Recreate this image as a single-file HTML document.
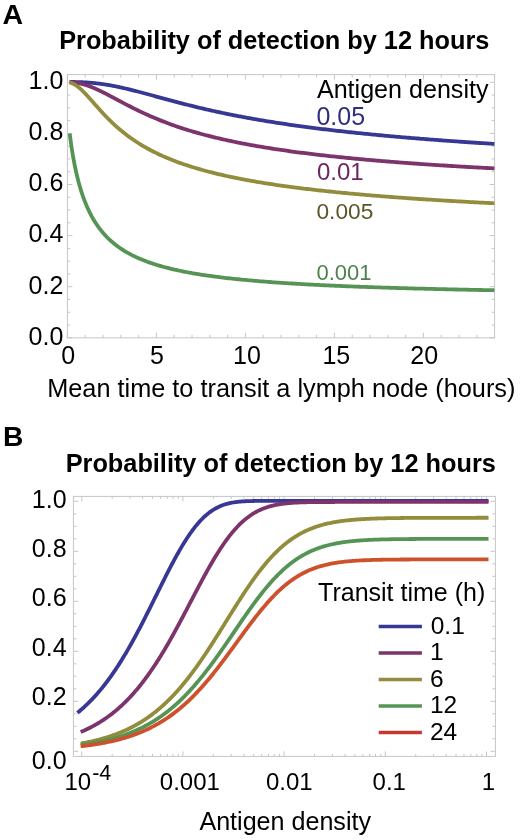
<!DOCTYPE html><html><head><meta charset="utf-8"><style>html,body{margin:0;padding:0;background:#fff}svg{display:block;will-change:transform}text{font-family:"Liberation Sans",sans-serif}</style></head><body>
<svg width="520" height="840" viewBox="0 0 520 840">
<rect width="520" height="840" fill="#fff"/>
<text x="2.4" y="23.9" font-weight="bold" font-size="28.5">A</text>
<text x="59.2" y="49.0" font-weight="bold" font-size="25.3">Probability of detection by 12 hours</text>
<path d="M67.40,337.80h5.0 M494.60,337.80h-5.0 M67.40,325.03h3.0 M494.60,325.03h-3.0 M67.40,312.25h3.0 M494.60,312.25h-3.0 M67.40,299.48h3.0 M494.60,299.48h-3.0 M67.40,286.70h5.0 M494.60,286.70h-5.0 M67.40,273.93h3.0 M494.60,273.93h-3.0 M67.40,261.15h3.0 M494.60,261.15h-3.0 M67.40,248.38h3.0 M494.60,248.38h-3.0 M67.40,235.60h5.0 M494.60,235.60h-5.0 M67.40,222.82h3.0 M494.60,222.82h-3.0 M67.40,210.05h3.0 M494.60,210.05h-3.0 M67.40,197.28h3.0 M494.60,197.28h-3.0 M67.40,184.50h5.0 M494.60,184.50h-5.0 M67.40,171.72h3.0 M494.60,171.72h-3.0 M67.40,158.95h3.0 M494.60,158.95h-3.0 M67.40,146.18h3.0 M494.60,146.18h-3.0 M67.40,133.40h5.0 M494.60,133.40h-5.0 M67.40,120.62h3.0 M494.60,120.62h-3.0 M67.40,107.85h3.0 M494.60,107.85h-3.0 M67.40,95.07h3.0 M494.60,95.07h-3.0 M67.40,82.30h5.0 M494.60,82.30h-5.0 M67.40,337.80v-5.0 M67.40,74.60v5.0 M85.20,337.80v-3.0 M85.20,74.60v3.0 M103.00,337.80v-3.0 M103.00,74.60v3.0 M120.80,337.80v-3.0 M120.80,74.60v3.0 M138.60,337.80v-3.0 M138.60,74.60v3.0 M156.40,337.80v-5.0 M156.40,74.60v5.0 M174.20,337.80v-3.0 M174.20,74.60v3.0 M192.00,337.80v-3.0 M192.00,74.60v3.0 M209.80,337.80v-3.0 M209.80,74.60v3.0 M227.60,337.80v-3.0 M227.60,74.60v3.0 M245.40,337.80v-5.0 M245.40,74.60v5.0 M263.20,337.80v-3.0 M263.20,74.60v3.0 M281.00,337.80v-3.0 M281.00,74.60v3.0 M298.80,337.80v-3.0 M298.80,74.60v3.0 M316.60,337.80v-3.0 M316.60,74.60v3.0 M334.40,337.80v-5.0 M334.40,74.60v5.0 M352.20,337.80v-3.0 M352.20,74.60v3.0 M370.00,337.80v-3.0 M370.00,74.60v3.0 M387.80,337.80v-3.0 M387.80,74.60v3.0 M405.60,337.80v-3.0 M405.60,74.60v3.0 M423.40,337.80v-5.0 M423.40,74.60v5.0 M441.20,337.80v-3.0 M441.20,74.60v3.0 M459.00,337.80v-3.0 M459.00,74.60v3.0 M476.80,337.80v-3.0 M476.80,74.60v3.0 M494.60,337.80v-3.0 M494.60,74.60v3.0" stroke="#c6c6c6" stroke-width="1" fill="none"/>
<rect x="67.40" y="74.60" width="427.20" height="263.20" stroke="#c6c6c6" stroke-width="1" fill="none"/>
<g fill="none" stroke-width="3.8" stroke-linejoin="round" clip-path="url(#ca)">
<path d="M69.71,81.97 L69.73,81.97 L69.77,81.97 L69.81,81.97 L69.86,81.97 L69.92,81.97 L69.98,81.97 L70.05,81.97 L70.13,81.97 L70.21,81.97 L70.29,81.97 L70.38,81.97 L70.47,81.97 L70.57,81.97 L70.67,81.97 L70.77,81.98 L70.88,81.98 L70.99,81.98 L71.10,81.98 L71.22,81.98 L71.34,81.98 L71.47,81.98 L71.59,81.98 L71.72,81.98 L71.85,81.98 L71.99,81.98 L72.13,81.98 L72.27,81.99 L72.41,81.99 L72.56,81.99 L72.70,81.99 L72.85,81.99 L73.01,81.99 L73.16,81.99 L73.32,82.00 L73.48,82.00 L73.64,82.00 L73.81,82.00 L73.98,82.00 L74.15,82.01 L74.32,82.01 L74.49,82.01 L74.67,82.01 L74.85,82.02 L75.03,82.02 L75.21,82.02 L75.39,82.03 L75.58,82.03 L75.77,82.03 L75.96,82.04 L76.15,82.04 L76.34,82.04 L76.54,82.05 L76.74,82.05 L76.94,82.06 L77.14,82.06 L77.34,82.07 L77.55,82.07 L77.75,82.08 L77.96,82.08 L78.17,82.09 L78.38,82.09 L78.60,82.10 L78.81,82.11 L79.03,82.11 L79.25,82.12 L79.47,82.13 L79.69,82.13 L79.92,82.14 L80.14,82.15 L80.37,82.16 L80.60,82.17 L80.83,82.17 L81.06,82.18 L81.30,82.19 L81.53,82.20 L81.77,82.21 L82.01,82.22 L82.25,82.23 L82.49,82.24 L82.74,82.25 L82.98,82.27 L83.23,82.28 L83.47,82.29 L83.72,82.30 L83.98,82.31 L84.23,82.33 L84.48,82.34 L84.74,82.36 L84.99,82.37 L85.25,82.38 L85.51,82.40 L85.77,82.41 L86.03,82.43 L86.30,82.45 L86.56,82.46 L86.83,82.48 L87.10,82.50 L87.37,82.52 L87.64,82.53 L87.91,82.55 L88.19,82.57 L88.46,82.59 L88.74,82.61 L89.01,82.63 L89.29,82.65 L89.57,82.67 L89.86,82.70 L90.14,82.72 L90.42,82.74 L90.71,82.77 L91.00,82.79 L91.28,82.81 L91.57,82.84 L91.86,82.86 L92.16,82.89 L92.45,82.92 L92.74,82.94 L93.04,82.97 L93.34,83.00 L93.64,83.03 L93.94,83.06 L94.24,83.09 L94.54,83.12 L94.84,83.15 L95.15,83.18 L95.45,83.22 L95.76,83.25 L96.07,83.28 L96.38,83.32 L96.69,83.35 L97.00,83.39 L97.31,83.42 L97.63,83.46 L97.94,83.50 L98.26,83.53 L98.58,83.57 L98.90,83.61 L99.22,83.65 L99.54,83.69 L99.86,83.73 L100.18,83.78 L100.51,83.82 L100.83,83.86 L101.16,83.91 L101.49,83.95 L101.82,84.00 L102.15,84.04 L102.48,84.09 L102.81,84.14 L103.15,84.18 L103.48,84.23 L103.82,84.28 L104.15,84.33 L104.49,84.38 L104.83,84.43 L105.17,84.49 L105.51,84.54 L105.86,84.59 L106.20,84.65 L106.54,84.70 L106.89,84.76 L107.24,84.82 L107.58,84.87 L107.93,84.93 L108.28,84.99 L108.64,85.05 L108.99,85.11 L109.34,85.17 L109.69,85.23 L110.05,85.30 L110.41,85.36 L110.76,85.42 L111.12,85.49 L111.48,85.55 L111.84,85.62 L112.20,85.69 L112.57,85.76 L112.93,85.82 L113.30,85.89 L113.66,85.96 L114.03,86.03 L114.40,86.11 L114.76,86.18 L115.13,86.25 L115.50,86.33 L115.88,86.40 L116.25,86.48 L116.62,86.55 L117.00,86.63 L117.37,86.71 L117.75,86.78 L118.13,86.86 L118.51,86.94 L118.89,87.02 L119.27,87.10 L119.65,87.19 L120.03,87.27 L120.42,87.35 L120.80,87.44 L121.69,87.63 L123.56,88.05 L125.44,88.49 L127.31,88.93 L129.19,89.38 L131.06,89.84 L132.93,90.31 L134.81,90.79 L136.68,91.27 L138.56,91.76 L140.43,92.25 L142.30,92.75 L144.18,93.25 L146.05,93.75 L147.92,94.26 L149.80,94.77 L151.67,95.28 L153.55,95.79 L155.42,96.30 L157.29,96.81 L159.17,97.33 L161.04,97.84 L162.92,98.35 L164.79,98.86 L166.66,99.36 L168.54,99.87 L170.41,100.37 L172.29,100.87 L174.16,101.37 L176.03,101.87 L177.91,102.36 L179.78,102.85 L181.66,103.33 L183.53,103.82 L185.40,104.30 L187.28,104.77 L189.15,105.24 L191.03,105.71 L192.90,106.17 L194.77,106.63 L196.65,107.09 L198.52,107.54 L200.39,107.98 L202.27,108.42 L204.14,108.86 L206.02,109.30 L207.89,109.73 L209.76,110.15 L211.64,110.57 L213.51,110.99 L215.39,111.40 L217.26,111.81 L219.13,112.21 L221.01,112.61 L222.88,113.01 L224.76,113.40 L226.63,113.79 L228.50,114.17 L230.38,114.55 L232.25,114.92 L234.13,115.30 L236.00,115.66 L237.87,116.03 L239.75,116.39 L241.62,116.74 L243.49,117.09 L245.37,117.44 L247.24,117.79 L249.12,118.13 L250.99,118.46 L252.86,118.80 L254.74,119.13 L256.61,119.45 L258.49,119.78 L260.36,120.10 L262.23,120.41 L264.11,120.73 L265.98,121.04 L267.86,121.34 L269.73,121.65 L271.60,121.95 L273.48,122.24 L275.35,122.54 L277.23,122.83 L279.10,123.12 L280.97,123.40 L282.85,123.69 L284.72,123.97 L286.59,124.24 L288.47,124.52 L290.34,124.79 L292.22,125.06 L294.09,125.32 L295.96,125.59 L297.84,125.85 L299.71,126.11 L301.59,126.36 L303.46,126.61 L305.33,126.87 L307.21,127.11 L309.08,127.36 L310.96,127.60 L312.83,127.85 L314.70,128.09 L316.58,128.32 L318.45,128.56 L320.33,128.79 L322.20,129.02 L324.07,129.25 L325.95,129.48 L327.82,129.70 L329.70,129.92 L331.57,130.14 L333.44,130.36 L335.32,130.58 L337.19,130.79 L339.06,131.00 L340.94,131.21 L342.81,131.42 L344.69,131.63 L346.56,131.84 L348.43,132.04 L350.31,132.24 L352.18,132.44 L354.06,132.64 L355.93,132.84 L357.80,133.03 L359.68,133.22 L361.55,133.42 L363.43,133.61 L365.30,133.79 L367.17,133.98 L369.05,134.17 L370.92,134.35 L372.80,134.53 L374.67,134.71 L376.54,134.89 L378.42,135.07 L380.29,135.25 L382.16,135.42 L384.04,135.60 L385.91,135.77 L387.79,135.94 L389.66,136.11 L391.53,136.28 L393.41,136.45 L395.28,136.61 L397.16,136.78 L399.03,136.94 L400.90,137.10 L402.78,137.27 L404.65,137.43 L406.53,137.58 L408.40,137.74 L410.27,137.90 L412.15,138.05 L414.02,138.21 L415.90,138.36 L417.77,138.51 L419.64,138.66 L421.52,138.81 L423.39,138.96 L425.26,139.11 L427.14,139.26 L429.01,139.40 L430.89,139.54 L432.76,139.69 L434.63,139.83 L436.51,139.97 L438.38,140.11 L440.26,140.25 L442.13,140.39 L444.00,140.53 L445.88,140.66 L447.75,140.80 L449.63,140.94 L451.50,141.07 L453.37,141.20 L455.25,141.33 L457.12,141.47 L459.00,141.60 L460.87,141.73 L462.74,141.85 L464.62,141.98 L466.49,142.11 L468.37,142.24 L470.24,142.36 L472.11,142.49 L473.99,142.61 L475.86,142.73 L477.73,142.85 L479.61,142.98 L481.48,143.10 L483.36,143.22 L485.23,143.34 L487.10,143.45 L488.98,143.57 L490.85,143.69 L492.73,143.80 L494.60,143.92" stroke="#373794"/>
<path d="M69.71,82.13 L69.73,82.13 L69.77,82.14 L69.81,82.14 L69.86,82.14 L69.92,82.14 L69.98,82.14 L70.05,82.15 L70.13,82.15 L70.21,82.15 L70.29,82.16 L70.38,82.16 L70.47,82.17 L70.57,82.17 L70.67,82.18 L70.77,82.18 L70.88,82.19 L70.99,82.19 L71.10,82.20 L71.22,82.21 L71.34,82.21 L71.47,82.22 L71.59,82.23 L71.72,82.24 L71.85,82.25 L71.99,82.26 L72.13,82.27 L72.27,82.28 L72.41,82.29 L72.56,82.30 L72.70,82.32 L72.85,82.33 L73.01,82.34 L73.16,82.36 L73.32,82.37 L73.48,82.39 L73.64,82.41 L73.81,82.42 L73.98,82.44 L74.15,82.46 L74.32,82.48 L74.49,82.50 L74.67,82.52 L74.85,82.55 L75.03,82.57 L75.21,82.59 L75.39,82.62 L75.58,82.64 L75.77,82.67 L75.96,82.70 L76.15,82.73 L76.34,82.76 L76.54,82.79 L76.74,82.82 L76.94,82.85 L77.14,82.89 L77.34,82.92 L77.55,82.96 L77.75,82.99 L77.96,83.03 L78.17,83.07 L78.38,83.11 L78.60,83.15 L78.81,83.20 L79.03,83.24 L79.25,83.28 L79.47,83.33 L79.69,83.38 L79.92,83.43 L80.14,83.48 L80.37,83.53 L80.60,83.58 L80.83,83.63 L81.06,83.69 L81.30,83.75 L81.53,83.80 L81.77,83.86 L82.01,83.92 L82.25,83.99 L82.49,84.05 L82.74,84.11 L82.98,84.18 L83.23,84.25 L83.47,84.32 L83.72,84.39 L83.98,84.46 L84.23,84.53 L84.48,84.61 L84.74,84.69 L84.99,84.76 L85.25,84.84 L85.51,84.92 L85.77,85.01 L86.03,85.09 L86.30,85.18 L86.56,85.26 L86.83,85.35 L87.10,85.44 L87.37,85.53 L87.64,85.63 L87.91,85.72 L88.19,85.82 L88.46,85.91 L88.74,86.01 L89.01,86.11 L89.29,86.22 L89.57,86.32 L89.86,86.43 L90.14,86.53 L90.42,86.64 L90.71,86.75 L91.00,86.86 L91.28,86.98 L91.57,87.09 L91.86,87.21 L92.16,87.33 L92.45,87.45 L92.74,87.57 L93.04,87.69 L93.34,87.81 L93.64,87.94 L93.94,88.07 L94.24,88.20 L94.54,88.33 L94.84,88.46 L95.15,88.59 L95.45,88.73 L95.76,88.86 L96.07,89.00 L96.38,89.14 L96.69,89.28 L97.00,89.42 L97.31,89.56 L97.63,89.71 L97.94,89.86 L98.26,90.00 L98.58,90.15 L98.90,90.30 L99.22,90.45 L99.54,90.61 L99.86,90.76 L100.18,90.92 L100.51,91.07 L100.83,91.23 L101.16,91.39 L101.49,91.55 L101.82,91.72 L102.15,91.88 L102.48,92.04 L102.81,92.21 L103.15,92.38 L103.48,92.54 L103.82,92.71 L104.15,92.88 L104.49,93.06 L104.83,93.23 L105.17,93.40 L105.51,93.58 L105.86,93.75 L106.20,93.93 L106.54,94.11 L106.89,94.29 L107.24,94.47 L107.58,94.65 L107.93,94.83 L108.28,95.01 L108.64,95.20 L108.99,95.38 L109.34,95.57 L109.69,95.75 L110.05,95.94 L110.41,96.13 L110.76,96.32 L111.12,96.51 L111.48,96.70 L111.84,96.89 L112.20,97.08 L112.57,97.28 L112.93,97.47 L113.30,97.66 L113.66,97.86 L114.03,98.05 L114.40,98.25 L114.76,98.45 L115.13,98.64 L115.50,98.84 L115.88,99.04 L116.25,99.24 L116.62,99.44 L117.00,99.64 L117.37,99.84 L117.75,100.04 L118.13,100.24 L118.51,100.45 L118.89,100.65 L119.27,100.85 L119.65,101.05 L120.03,101.26 L120.42,101.46 L120.80,101.67 L121.69,102.14 L123.56,103.13 L125.44,104.11 L127.31,105.09 L129.19,106.06 L131.06,107.01 L132.93,107.96 L134.81,108.90 L136.68,109.82 L138.56,110.73 L140.43,111.63 L142.30,112.52 L144.18,113.39 L146.05,114.25 L147.92,115.09 L149.80,115.93 L151.67,116.74 L153.55,117.55 L155.42,118.34 L157.29,119.12 L159.17,119.88 L161.04,120.63 L162.92,121.37 L164.79,122.10 L166.66,122.81 L168.54,123.51 L170.41,124.20 L172.29,124.87 L174.16,125.54 L176.03,126.19 L177.91,126.83 L179.78,127.46 L181.66,128.08 L183.53,128.69 L185.40,129.28 L187.28,129.87 L189.15,130.45 L191.03,131.01 L192.90,131.57 L194.77,132.12 L196.65,132.66 L198.52,133.19 L200.39,133.71 L202.27,134.22 L204.14,134.72 L206.02,135.22 L207.89,135.70 L209.76,136.18 L211.64,136.65 L213.51,137.12 L215.39,137.57 L217.26,138.02 L219.13,138.46 L221.01,138.90 L222.88,139.33 L224.76,139.75 L226.63,140.16 L228.50,140.57 L230.38,140.97 L232.25,141.37 L234.13,141.76 L236.00,142.14 L237.87,142.52 L239.75,142.90 L241.62,143.26 L243.49,143.63 L245.37,143.98 L247.24,144.34 L249.12,144.68 L250.99,145.03 L252.86,145.37 L254.74,145.70 L256.61,146.03 L258.49,146.35 L260.36,146.67 L262.23,146.99 L264.11,147.30 L265.98,147.60 L267.86,147.91 L269.73,148.21 L271.60,148.50 L273.48,148.79 L275.35,149.08 L277.23,149.36 L279.10,149.64 L280.97,149.92 L282.85,150.19 L284.72,150.46 L286.59,150.73 L288.47,151.00 L290.34,151.26 L292.22,151.51 L294.09,151.77 L295.96,152.02 L297.84,152.27 L299.71,152.51 L301.59,152.75 L303.46,152.99 L305.33,153.23 L307.21,153.46 L309.08,153.69 L310.96,153.92 L312.83,154.15 L314.70,154.37 L316.58,154.59 L318.45,154.81 L320.33,155.03 L322.20,155.24 L324.07,155.46 L325.95,155.66 L327.82,155.87 L329.70,156.08 L331.57,156.28 L333.44,156.48 L335.32,156.68 L337.19,156.88 L339.06,157.07 L340.94,157.26 L342.81,157.45 L344.69,157.64 L346.56,157.83 L348.43,158.01 L350.31,158.20 L352.18,158.38 L354.06,158.56 L355.93,158.74 L357.80,158.91 L359.68,159.09 L361.55,159.26 L363.43,159.43 L365.30,159.60 L367.17,159.77 L369.05,159.93 L370.92,160.10 L372.80,160.26 L374.67,160.42 L376.54,160.58 L378.42,160.74 L380.29,160.90 L382.16,161.05 L384.04,161.21 L385.91,161.36 L387.79,161.51 L389.66,161.66 L391.53,161.81 L393.41,161.96 L395.28,162.11 L397.16,162.25 L399.03,162.40 L400.90,162.54 L402.78,162.68 L404.65,162.82 L406.53,162.96 L408.40,163.10 L410.27,163.23 L412.15,163.37 L414.02,163.50 L415.90,163.64 L417.77,163.77 L419.64,163.90 L421.52,164.03 L423.39,164.16 L425.26,164.29 L427.14,164.42 L429.01,164.54 L430.89,164.67 L432.76,164.79 L434.63,164.91 L436.51,165.04 L438.38,165.16 L440.26,165.28 L442.13,165.40 L444.00,165.52 L445.88,165.63 L447.75,165.75 L449.63,165.86 L451.50,165.98 L453.37,166.09 L455.25,166.21 L457.12,166.32 L459.00,166.43 L460.87,166.54 L462.74,166.65 L464.62,166.76 L466.49,166.87 L468.37,166.98 L470.24,167.08 L472.11,167.19 L473.99,167.29 L475.86,167.40 L477.73,167.50 L479.61,167.60 L481.48,167.71 L483.36,167.81 L485.23,167.91 L487.10,168.01 L488.98,168.11 L490.85,168.21 L492.73,168.31 L494.60,168.40" stroke="#7d336b"/>
<path d="M69.71,82.59 L69.73,82.59 L69.77,82.60 L69.81,82.61 L69.86,82.62 L69.92,82.63 L69.98,82.65 L70.05,82.66 L70.13,82.68 L70.21,82.70 L70.29,82.72 L70.38,82.74 L70.47,82.77 L70.57,82.79 L70.67,82.82 L70.77,82.85 L70.88,82.88 L70.99,82.92 L71.10,82.95 L71.22,82.99 L71.34,83.03 L71.47,83.07 L71.59,83.11 L71.72,83.16 L71.85,83.21 L71.99,83.26 L72.13,83.31 L72.27,83.37 L72.41,83.43 L72.56,83.49 L72.70,83.55 L72.85,83.62 L73.01,83.69 L73.16,83.76 L73.32,83.84 L73.48,83.92 L73.64,84.00 L73.81,84.08 L73.98,84.17 L74.15,84.26 L74.32,84.36 L74.49,84.45 L74.67,84.55 L74.85,84.66 L75.03,84.76 L75.21,84.87 L75.39,84.99 L75.58,85.11 L75.77,85.23 L75.96,85.35 L76.15,85.48 L76.34,85.61 L76.54,85.75 L76.74,85.88 L76.94,86.03 L77.14,86.17 L77.34,86.32 L77.55,86.47 L77.75,86.63 L77.96,86.79 L78.17,86.96 L78.38,87.12 L78.60,87.30 L78.81,87.47 L79.03,87.65 L79.25,87.83 L79.47,88.02 L79.69,88.21 L79.92,88.41 L80.14,88.60 L80.37,88.81 L80.60,89.01 L80.83,89.22 L81.06,89.43 L81.30,89.65 L81.53,89.87 L81.77,90.09 L82.01,90.32 L82.25,90.55 L82.49,90.78 L82.74,91.02 L82.98,91.26 L83.23,91.51 L83.47,91.76 L83.72,92.01 L83.98,92.26 L84.23,92.52 L84.48,92.78 L84.74,93.04 L84.99,93.31 L85.25,93.58 L85.51,93.86 L85.77,94.13 L86.03,94.41 L86.30,94.69 L86.56,94.98 L86.83,95.27 L87.10,95.56 L87.37,95.85 L87.64,96.15 L87.91,96.45 L88.19,96.75 L88.46,97.05 L88.74,97.36 L89.01,97.67 L89.29,97.98 L89.57,98.29 L89.86,98.61 L90.14,98.93 L90.42,99.25 L90.71,99.57 L91.00,99.89 L91.28,100.22 L91.57,100.54 L91.86,100.87 L92.16,101.21 L92.45,101.54 L92.74,101.87 L93.04,102.21 L93.34,102.55 L93.64,102.89 L93.94,103.23 L94.24,103.57 L94.54,103.91 L94.84,104.26 L95.15,104.60 L95.45,104.95 L95.76,105.30 L96.07,105.64 L96.38,105.99 L96.69,106.34 L97.00,106.70 L97.31,107.05 L97.63,107.40 L97.94,107.75 L98.26,108.11 L98.58,108.46 L98.90,108.82 L99.22,109.17 L99.54,109.53 L99.86,109.89 L100.18,110.24 L100.51,110.60 L100.83,110.96 L101.16,111.32 L101.49,111.67 L101.82,112.03 L102.15,112.39 L102.48,112.75 L102.81,113.11 L103.15,113.46 L103.48,113.82 L103.82,114.18 L104.15,114.54 L104.49,114.89 L104.83,115.25 L105.17,115.61 L105.51,115.96 L105.86,116.32 L106.20,116.68 L106.54,117.03 L106.89,117.39 L107.24,117.74 L107.58,118.10 L107.93,118.45 L108.28,118.80 L108.64,119.15 L108.99,119.51 L109.34,119.86 L109.69,120.21 L110.05,120.56 L110.41,120.91 L110.76,121.25 L111.12,121.60 L111.48,121.95 L111.84,122.29 L112.20,122.64 L112.57,122.98 L112.93,123.33 L113.30,123.67 L113.66,124.01 L114.03,124.35 L114.40,124.69 L114.76,125.03 L115.13,125.37 L115.50,125.71 L115.88,126.04 L116.25,126.38 L116.62,126.71 L117.00,127.04 L117.37,127.38 L117.75,127.71 L118.13,128.04 L118.51,128.36 L118.89,128.69 L119.27,129.02 L119.65,129.34 L120.03,129.67 L120.42,129.99 L120.80,130.31 L121.69,131.05 L123.56,132.57 L125.44,134.04 L127.31,135.48 L129.19,136.86 L131.06,138.21 L132.93,139.52 L134.81,140.79 L136.68,142.03 L138.56,143.23 L140.43,144.39 L142.30,145.52 L144.18,146.62 L146.05,147.69 L147.92,148.73 L149.80,149.75 L151.67,150.73 L153.55,151.69 L155.42,152.62 L157.29,153.53 L159.17,154.42 L161.04,155.28 L162.92,156.13 L164.79,156.95 L166.66,157.75 L168.54,158.53 L170.41,159.29 L172.29,160.04 L174.16,160.77 L176.03,161.48 L177.91,162.17 L179.78,162.85 L181.66,163.52 L183.53,164.17 L185.40,164.80 L187.28,165.42 L189.15,166.03 L191.03,166.63 L192.90,167.21 L194.77,167.78 L196.65,168.34 L198.52,168.89 L200.39,169.43 L202.27,169.96 L204.14,170.47 L206.02,170.98 L207.89,171.48 L209.76,171.97 L211.64,172.44 L213.51,172.91 L215.39,173.38 L217.26,173.83 L219.13,174.28 L221.01,174.71 L222.88,175.14 L224.76,175.56 L226.63,175.98 L228.50,176.39 L230.38,176.79 L232.25,177.18 L234.13,177.57 L236.00,177.95 L237.87,178.33 L239.75,178.70 L241.62,179.06 L243.49,179.42 L245.37,179.77 L247.24,180.12 L249.12,180.46 L250.99,180.80 L252.86,181.13 L254.74,181.46 L256.61,181.78 L258.49,182.10 L260.36,182.41 L262.23,182.72 L264.11,183.02 L265.98,183.32 L267.86,183.62 L269.73,183.91 L271.60,184.20 L273.48,184.48 L275.35,184.76 L277.23,185.04 L279.10,185.31 L280.97,185.58 L282.85,185.84 L284.72,186.10 L286.59,186.36 L288.47,186.62 L290.34,186.87 L292.22,187.12 L294.09,187.36 L295.96,187.61 L297.84,187.84 L299.71,188.08 L301.59,188.32 L303.46,188.55 L305.33,188.77 L307.21,189.00 L309.08,189.22 L310.96,189.44 L312.83,189.66 L314.70,189.88 L316.58,190.09 L318.45,190.30 L320.33,190.51 L322.20,190.71 L324.07,190.92 L325.95,191.12 L327.82,191.32 L329.70,191.51 L331.57,191.71 L333.44,191.90 L335.32,192.09 L337.19,192.28 L339.06,192.47 L340.94,192.65 L342.81,192.83 L344.69,193.01 L346.56,193.19 L348.43,193.37 L350.31,193.54 L352.18,193.72 L354.06,193.89 L355.93,194.06 L357.80,194.23 L359.68,194.40 L361.55,194.56 L363.43,194.72 L365.30,194.89 L367.17,195.05 L369.05,195.21 L370.92,195.36 L372.80,195.52 L374.67,195.67 L376.54,195.83 L378.42,195.98 L380.29,196.13 L382.16,196.28 L384.04,196.42 L385.91,196.57 L387.79,196.72 L389.66,196.86 L391.53,197.00 L393.41,197.14 L395.28,197.28 L397.16,197.42 L399.03,197.56 L400.90,197.69 L402.78,197.83 L404.65,197.96 L406.53,198.10 L408.40,198.23 L410.27,198.36 L412.15,198.49 L414.02,198.62 L415.90,198.74 L417.77,198.87 L419.64,198.99 L421.52,199.12 L423.39,199.24 L425.26,199.36 L427.14,199.49 L429.01,199.61 L430.89,199.72 L432.76,199.84 L434.63,199.96 L436.51,200.08 L438.38,200.19 L440.26,200.31 L442.13,200.42 L444.00,200.53 L445.88,200.65 L447.75,200.76 L449.63,200.87 L451.50,200.98 L453.37,201.09 L455.25,201.19 L457.12,201.30 L459.00,201.41 L460.87,201.51 L462.74,201.62 L464.62,201.72 L466.49,201.82 L468.37,201.93 L470.24,202.03 L472.11,202.13 L473.99,202.23 L475.86,202.33 L477.73,202.43 L479.61,202.53 L481.48,202.62 L483.36,202.72 L485.23,202.82 L487.10,202.91 L488.98,203.01 L490.85,203.10 L492.73,203.19 L494.60,203.29" stroke="#928c3d"/>
<path d="M69.71,133.53 L69.73,133.68 L69.77,133.95 L69.81,134.30 L69.86,134.71 L69.92,135.18 L69.98,135.69 L70.05,136.24 L70.13,136.83 L70.21,137.44 L70.29,138.09 L70.38,138.76 L70.47,139.46 L70.57,140.18 L70.67,140.92 L70.77,141.67 L70.88,142.45 L70.99,143.24 L71.10,144.04 L71.22,144.85 L71.34,145.68 L71.47,146.51 L71.59,147.36 L71.72,148.21 L71.85,149.07 L71.99,149.93 L72.13,150.81 L72.27,151.68 L72.41,152.56 L72.56,153.45 L72.70,154.34 L72.85,155.23 L73.01,156.12 L73.16,157.01 L73.32,157.91 L73.48,158.80 L73.64,159.70 L73.81,160.59 L73.98,161.49 L74.15,162.38 L74.32,163.27 L74.49,164.16 L74.67,165.05 L74.85,165.93 L75.03,166.81 L75.21,167.69 L75.39,168.57 L75.58,169.45 L75.77,170.32 L75.96,171.18 L76.15,172.05 L76.34,172.90 L76.54,173.76 L76.74,174.61 L76.94,175.46 L77.14,176.30 L77.34,177.13 L77.55,177.97 L77.75,178.79 L77.96,179.62 L78.17,180.44 L78.38,181.25 L78.60,182.06 L78.81,182.86 L79.03,183.65 L79.25,184.45 L79.47,185.23 L79.69,186.01 L79.92,186.79 L80.14,187.56 L80.37,188.32 L80.60,189.08 L80.83,189.84 L81.06,190.58 L81.30,191.33 L81.53,192.06 L81.77,192.79 L82.01,193.52 L82.25,194.24 L82.49,194.95 L82.74,195.66 L82.98,196.37 L83.23,197.06 L83.47,197.76 L83.72,198.44 L83.98,199.12 L84.23,199.80 L84.48,200.47 L84.74,201.13 L84.99,201.79 L85.25,202.45 L85.51,203.09 L85.77,203.74 L86.03,204.37 L86.30,205.01 L86.56,205.63 L86.83,206.25 L87.10,206.87 L87.37,207.48 L87.64,208.09 L87.91,208.69 L88.19,209.28 L88.46,209.87 L88.74,210.46 L89.01,211.04 L89.29,211.62 L89.57,212.19 L89.86,212.75 L90.14,213.31 L90.42,213.87 L90.71,214.42 L91.00,214.97 L91.28,215.51 L91.57,216.04 L91.86,216.58 L92.16,217.10 L92.45,217.63 L92.74,218.15 L93.04,218.66 L93.34,219.17 L93.64,219.68 L93.94,220.18 L94.24,220.67 L94.54,221.16 L94.84,221.65 L95.15,222.14 L95.45,222.62 L95.76,223.09 L96.07,223.56 L96.38,224.03 L96.69,224.49 L97.00,224.95 L97.31,225.41 L97.63,225.86 L97.94,226.31 L98.26,226.75 L98.58,227.19 L98.90,227.62 L99.22,228.06 L99.54,228.48 L99.86,228.91 L100.18,229.33 L100.51,229.75 L100.83,230.16 L101.16,230.57 L101.49,230.98 L101.82,231.38 L102.15,231.78 L102.48,232.18 L102.81,232.57 L103.15,232.96 L103.48,233.35 L103.82,233.73 L104.15,234.11 L104.49,234.49 L104.83,234.86 L105.17,235.23 L105.51,235.60 L105.86,235.96 L106.20,236.32 L106.54,236.68 L106.89,237.04 L107.24,237.39 L107.58,237.74 L107.93,238.08 L108.28,238.43 L108.64,238.77 L108.99,239.11 L109.34,239.44 L109.69,239.77 L110.05,240.10 L110.41,240.43 L110.76,240.75 L111.12,241.07 L111.48,241.39 L111.84,241.71 L112.20,242.02 L112.57,242.33 L112.93,242.64 L113.30,242.95 L113.66,243.25 L114.03,243.55 L114.40,243.85 L114.76,244.15 L115.13,244.44 L115.50,244.73 L115.88,245.02 L116.25,245.31 L116.62,245.59 L117.00,245.88 L117.37,246.16 L117.75,246.43 L118.13,246.71 L118.51,246.98 L118.89,247.25 L119.27,247.52 L119.65,247.79 L120.03,248.05 L120.42,248.32 L120.80,248.58 L121.69,249.17 L123.56,250.37 L125.44,251.52 L127.31,252.62 L129.19,253.66 L131.06,254.66 L132.93,255.61 L134.81,256.53 L136.68,257.40 L138.56,258.24 L140.43,259.05 L142.30,259.83 L144.18,260.57 L146.05,261.29 L147.92,261.98 L149.80,262.65 L151.67,263.29 L153.55,263.91 L155.42,264.51 L157.29,265.09 L159.17,265.65 L161.04,266.19 L162.92,266.71 L164.79,267.22 L166.66,267.71 L168.54,268.19 L170.41,268.65 L172.29,269.10 L174.16,269.53 L176.03,269.96 L177.91,270.37 L179.78,270.76 L181.66,271.15 L183.53,271.53 L185.40,271.90 L187.28,272.25 L189.15,272.60 L191.03,272.94 L192.90,273.27 L194.77,273.59 L196.65,273.90 L198.52,274.21 L200.39,274.51 L202.27,274.80 L204.14,275.08 L206.02,275.36 L207.89,275.63 L209.76,275.89 L211.64,276.15 L213.51,276.40 L215.39,276.65 L217.26,276.89 L219.13,277.13 L221.01,277.36 L222.88,277.59 L224.76,277.81 L226.63,278.03 L228.50,278.24 L230.38,278.45 L232.25,278.65 L234.13,278.85 L236.00,279.04 L237.87,279.24 L239.75,279.42 L241.62,279.61 L243.49,279.79 L245.37,279.97 L247.24,280.14 L249.12,280.31 L250.99,280.48 L252.86,280.64 L254.74,280.81 L256.61,280.97 L258.49,281.12 L260.36,281.27 L262.23,281.42 L264.11,281.57 L265.98,281.72 L267.86,281.86 L269.73,282.00 L271.60,282.14 L273.48,282.28 L275.35,282.41 L277.23,282.54 L279.10,282.67 L280.97,282.80 L282.85,282.92 L284.72,283.04 L286.59,283.17 L288.47,283.28 L290.34,283.40 L292.22,283.52 L294.09,283.63 L295.96,283.74 L297.84,283.85 L299.71,283.96 L301.59,284.07 L303.46,284.17 L305.33,284.28 L307.21,284.38 L309.08,284.48 L310.96,284.58 L312.83,284.68 L314.70,284.78 L316.58,284.87 L318.45,284.97 L320.33,285.06 L322.20,285.15 L324.07,285.24 L325.95,285.33 L327.82,285.42 L329.70,285.50 L331.57,285.59 L333.44,285.67 L335.32,285.76 L337.19,285.84 L339.06,285.92 L340.94,286.00 L342.81,286.08 L344.69,286.16 L346.56,286.23 L348.43,286.31 L350.31,286.39 L352.18,286.46 L354.06,286.53 L355.93,286.60 L357.80,286.68 L359.68,286.75 L361.55,286.82 L363.43,286.89 L365.30,286.95 L367.17,287.02 L369.05,287.09 L370.92,287.15 L372.80,287.22 L374.67,287.28 L376.54,287.35 L378.42,287.41 L380.29,287.47 L382.16,287.53 L384.04,287.59 L385.91,287.65 L387.79,287.71 L389.66,287.77 L391.53,287.83 L393.41,287.88 L395.28,287.94 L397.16,288.00 L399.03,288.05 L400.90,288.11 L402.78,288.16 L404.65,288.22 L406.53,288.27 L408.40,288.32 L410.27,288.37 L412.15,288.42 L414.02,288.48 L415.90,288.53 L417.77,288.58 L419.64,288.63 L421.52,288.67 L423.39,288.72 L425.26,288.77 L427.14,288.82 L429.01,288.86 L430.89,288.91 L432.76,288.96 L434.63,289.00 L436.51,289.05 L438.38,289.09 L440.26,289.14 L442.13,289.18 L444.00,289.22 L445.88,289.27 L447.75,289.31 L449.63,289.35 L451.50,289.39 L453.37,289.43 L455.25,289.48 L457.12,289.52 L459.00,289.56 L460.87,289.60 L462.74,289.64 L464.62,289.68 L466.49,289.71 L468.37,289.75 L470.24,289.79 L472.11,289.83 L473.99,289.87 L475.86,289.90 L477.73,289.94 L479.61,289.98 L481.48,290.01 L483.36,290.05 L485.23,290.08 L487.10,290.12 L488.98,290.15 L490.85,290.19 L492.73,290.22 L494.60,290.26" stroke="#569456"/>
</g>
<defs><clipPath id="ca"><rect x="67.40" y="74.60" width="427.20" height="263.20"/></clipPath>
<clipPath id="cb"><rect x="73.40" y="496.40" width="422.00" height="260.00"/></clipPath></defs>
<text x="63.3" y="344.80" font-size="25" text-anchor="end">0.0</text>
<text x="63.3" y="293.57" font-size="25" text-anchor="end">0.2</text>
<text x="63.3" y="242.34" font-size="25" text-anchor="end">0.4</text>
<text x="63.3" y="191.11" font-size="25" text-anchor="end">0.6</text>
<text x="63.3" y="139.88" font-size="25" text-anchor="end">0.8</text>
<text x="63.3" y="88.65" font-size="25" text-anchor="end">1.0</text>
<text x="68.10" y="363.8" font-size="25" text-anchor="middle">0</text>
<text x="156.90" y="363.8" font-size="25" text-anchor="middle">5</text>
<text x="246.90" y="363.8" font-size="25" text-anchor="middle">10</text>
<text x="336.30" y="363.8" font-size="25" text-anchor="middle">15</text>
<text x="424.20" y="363.8" font-size="25" text-anchor="middle">20</text>
<text x="47.2" y="396.5" font-size="25.3">Mean time to transit a lymph node (hours)</text>
<text x="316.9" y="97.7" font-size="25.1">Antigen density</text>
<text x="316.4" y="124.6" font-size="25" fill="#2e2e80">0.05</text>
<text x="316.9" y="180.1" font-size="24" fill="#6e2660">0.01</text>
<text x="316.5" y="219.0" font-size="22.7" fill="#5c5529">0.005</text>
<text x="316.5" y="280.4" font-size="22" fill="#4d824d">0.001</text>
<text x="3.0" y="445.8" font-weight="bold" font-size="28.2">B</text>
<text x="65.7" y="471.7" font-weight="bold" font-size="25.3">Probability of detection by 12 hours</text>
<path d="M73.40,751.30h5.0 M495.40,751.30h-5.0 M73.40,738.80h3.0 M495.40,738.80h-3.0 M73.40,726.30h3.0 M495.40,726.30h-3.0 M73.40,713.80h3.0 M495.40,713.80h-3.0 M73.40,701.30h5.0 M495.40,701.30h-5.0 M73.40,688.80h3.0 M495.40,688.80h-3.0 M73.40,676.30h3.0 M495.40,676.30h-3.0 M73.40,663.80h3.0 M495.40,663.80h-3.0 M73.40,651.30h5.0 M495.40,651.30h-5.0 M73.40,638.80h3.0 M495.40,638.80h-3.0 M73.40,626.30h3.0 M495.40,626.30h-3.0 M73.40,613.80h3.0 M495.40,613.80h-3.0 M73.40,601.30h5.0 M495.40,601.30h-5.0 M73.40,588.80h3.0 M495.40,588.80h-3.0 M73.40,576.30h3.0 M495.40,576.30h-3.0 M73.40,563.80h3.0 M495.40,563.80h-3.0 M73.40,551.30h5.0 M495.40,551.30h-5.0 M73.40,538.80h3.0 M495.40,538.80h-3.0 M73.40,526.30h3.0 M495.40,526.30h-3.0 M73.40,513.80h3.0 M495.40,513.80h-3.0 M73.40,501.30h5.0 M495.40,501.30h-5.0 M81.70,756.40v-5.0 M81.70,496.40v5.0 M112.16,756.40v-2.5 M112.16,496.40v2.5 M129.98,756.40v-2.5 M129.98,496.40v2.5 M142.63,756.40v-2.5 M142.63,496.40v2.5 M152.44,756.40v-2.5 M152.44,496.40v2.5 M160.45,756.40v-2.5 M160.45,496.40v2.5 M167.22,756.40v-2.5 M167.22,496.40v2.5 M173.09,756.40v-2.5 M173.09,496.40v2.5 M178.27,756.40v-2.5 M178.27,496.40v2.5 M182.90,756.40v-5.0 M182.90,496.40v5.0 M213.36,756.40v-2.5 M213.36,496.40v2.5 M231.18,756.40v-2.5 M231.18,496.40v2.5 M243.83,756.40v-2.5 M243.83,496.40v2.5 M253.64,756.40v-2.5 M253.64,496.40v2.5 M261.65,756.40v-2.5 M261.65,496.40v2.5 M268.42,756.40v-2.5 M268.42,496.40v2.5 M274.29,756.40v-2.5 M274.29,496.40v2.5 M279.47,756.40v-2.5 M279.47,496.40v2.5 M284.10,756.40v-5.0 M284.10,496.40v5.0 M314.56,756.40v-2.5 M314.56,496.40v2.5 M332.38,756.40v-2.5 M332.38,496.40v2.5 M345.03,756.40v-2.5 M345.03,496.40v2.5 M354.84,756.40v-2.5 M354.84,496.40v2.5 M362.85,756.40v-2.5 M362.85,496.40v2.5 M369.62,756.40v-2.5 M369.62,496.40v2.5 M375.49,756.40v-2.5 M375.49,496.40v2.5 M380.67,756.40v-2.5 M380.67,496.40v2.5 M385.30,756.40v-5.0 M385.30,496.40v5.0 M415.76,756.40v-2.5 M415.76,496.40v2.5 M433.58,756.40v-2.5 M433.58,496.40v2.5 M446.23,756.40v-2.5 M446.23,496.40v2.5 M456.04,756.40v-2.5 M456.04,496.40v2.5 M464.05,756.40v-2.5 M464.05,496.40v2.5 M470.82,756.40v-2.5 M470.82,496.40v2.5 M476.69,756.40v-2.5 M476.69,496.40v2.5 M481.87,756.40v-2.5 M481.87,496.40v2.5 M486.50,756.40v-5.0 M486.50,496.40v5.0" stroke="#c6c6c6" stroke-width="1" fill="none"/>
<rect x="73.40" y="496.40" width="422.00" height="260.00" stroke="#c6c6c6" stroke-width="1" fill="none"/>
<g fill="none" stroke-width="3.8" stroke-linejoin="round" clip-path="url(#cb)">
<path d="M77.40,712.88 L78.43,712.04 L79.46,711.19 L80.49,710.32 L81.52,709.43 L82.55,708.53 L83.58,707.60 L84.61,706.67 L85.64,705.71 L86.67,704.74 L87.70,703.74 L88.73,702.73 L89.76,701.71 L90.79,700.66 L91.82,699.59 L92.85,698.51 L93.89,697.41 L94.92,696.28 L95.95,695.14 L96.98,693.98 L98.01,692.80 L99.04,691.60 L100.07,690.38 L101.10,689.14 L102.13,687.87 L103.16,686.59 L104.19,685.29 L105.22,683.97 L106.25,682.62 L107.28,681.26 L108.31,679.87 L109.34,678.47 L110.37,677.04 L111.40,675.59 L112.43,674.12 L113.46,672.64 L114.49,671.12 L115.52,669.59 L116.55,668.04 L117.58,666.47 L118.61,664.88 L119.64,663.26 L120.67,661.63 L121.70,659.97 L122.73,658.30 L123.76,656.60 L124.79,654.89 L125.83,653.16 L126.86,651.40 L127.89,649.63 L128.92,647.84 L129.95,646.03 L130.98,644.21 L132.01,642.36 L133.04,640.50 L134.07,638.62 L135.10,636.73 L136.13,634.82 L137.16,632.89 L138.19,630.95 L139.22,629.00 L140.25,627.03 L141.28,625.05 L142.31,623.05 L143.34,621.05 L144.37,619.03 L145.40,617.01 L146.43,614.97 L147.46,612.93 L148.49,610.88 L149.52,608.82 L150.55,606.75 L151.58,604.68 L152.61,602.61 L153.64,600.53 L154.67,598.45 L155.70,596.37 L156.74,594.28 L157.77,592.20 L158.80,590.12 L159.83,588.05 L160.86,585.97 L161.89,583.91 L162.92,581.84 L163.95,579.79 L164.98,577.74 L166.01,575.71 L167.04,573.68 L168.07,571.67 L169.10,569.67 L170.13,567.68 L171.16,565.71 L172.19,563.76 L173.22,561.83 L174.25,559.91 L175.28,558.01 L176.31,556.14 L177.34,554.29 L178.37,552.46 L179.40,550.66 L180.43,548.88 L181.46,547.13 L182.49,545.40 L183.52,543.71 L184.55,542.05 L185.58,540.41 L186.61,538.81 L187.64,537.24 L188.68,535.70 L189.71,534.20 L190.74,532.73 L191.77,531.30 L192.80,529.90 L193.83,528.54 L194.86,527.21 L195.89,525.92 L196.92,524.67 L197.95,523.46 L198.98,522.28 L200.01,521.14 L201.04,520.04 L202.07,518.98 L203.10,517.96 L204.13,516.97 L205.16,516.02 L206.19,515.11 L207.22,514.24 L208.25,513.40 L209.28,512.60 L210.31,511.83 L211.34,511.10 L212.37,510.41 L213.40,509.75 L214.43,509.12 L215.46,508.52 L216.49,507.96 L217.52,507.42 L218.55,506.92 L219.58,506.45 L220.62,506.00 L221.65,505.58 L222.68,505.19 L223.71,504.82 L224.74,504.48 L225.77,504.16 L226.80,503.87 L227.83,503.59 L228.86,503.34 L229.89,503.10 L230.92,502.88 L231.95,502.68 L232.98,502.50 L234.01,502.33 L235.04,502.18 L236.07,502.04 L237.10,501.91 L238.13,501.79 L239.16,501.69 L240.19,501.59 L241.22,501.51 L242.25,501.43 L243.28,501.36 L244.31,501.30 L245.34,501.25 L246.37,501.20 L247.40,501.16 L248.43,501.12 L249.46,501.08 L250.49,501.05 L251.53,501.03 L252.56,501.01 L253.59,500.99 L254.62,500.97 L255.65,500.96 L256.68,500.94 L257.71,500.93 L258.74,500.92 L259.77,500.92 L260.80,500.91 L261.83,500.90 L262.86,500.90 L263.89,500.90 L264.92,500.89 L265.95,500.89 L266.98,500.89 L268.01,500.89 L269.04,500.88 L270.07,500.88 L271.10,500.88 L272.13,500.88 L273.16,500.88 L274.19,500.88 L275.22,500.88 L276.25,500.88 L277.28,500.88 L278.31,500.88 L279.34,500.88 L280.37,500.88 L281.40,500.88 L282.43,500.88 L283.47,500.88 L284.50,500.88 L285.53,500.88 L286.56,500.88 L287.59,500.88 L288.62,500.88 L289.65,500.88 L290.68,500.88 L291.71,500.88 L292.74,500.88 L293.77,500.88 L294.80,500.88 L295.83,500.88 L296.86,500.88 L297.89,500.88 L298.92,500.88 L299.95,500.88 L300.98,500.88 L302.01,500.88 L303.04,500.88 L304.07,500.88 L305.10,500.88 L306.13,500.88 L307.16,500.88 L308.19,500.88 L309.22,500.88 L310.25,500.88 L311.28,500.88 L312.31,500.88 L313.34,500.88 L314.37,500.88 L315.41,500.88 L316.44,500.88 L317.47,500.88 L318.50,500.88 L319.53,500.88 L320.56,500.88 L321.59,500.88 L322.62,500.88 L323.65,500.88 L324.68,500.88 L325.71,500.88 L326.74,500.88 L327.77,500.88 L328.80,500.88 L329.83,500.88 L330.86,500.88 L331.89,500.88 L332.92,500.88 L333.95,500.88 L334.98,500.88 L336.01,500.88 L337.04,500.88 L338.07,500.88 L339.10,500.88 L340.13,500.88 L341.16,500.88 L342.19,500.88 L343.22,500.88 L344.25,500.88 L345.28,500.88 L346.32,500.88 L347.35,500.88 L348.38,500.88 L349.41,500.88 L350.44,500.88 L351.47,500.88 L352.50,500.88 L353.53,500.88 L354.56,500.88 L355.59,500.88 L356.62,500.88 L357.65,500.88 L358.68,500.88 L359.71,500.88 L360.74,500.88 L361.77,500.88 L362.80,500.88 L363.83,500.88 L364.86,500.88 L365.89,500.88 L366.92,500.88 L367.95,500.88 L368.98,500.88 L370.01,500.88 L371.04,500.88 L372.07,500.88 L373.10,500.88 L374.13,500.88 L375.16,500.88 L376.19,500.88 L377.22,500.88 L378.26,500.88 L379.29,500.88 L380.32,500.88 L381.35,500.88 L382.38,500.88 L383.41,500.88 L384.44,500.88 L385.47,500.88 L386.50,500.88 L387.53,500.88 L388.56,500.88 L389.59,500.88 L390.62,500.88 L391.65,500.88 L392.68,500.88 L393.71,500.88 L394.74,500.88 L395.77,500.88 L396.80,500.88 L397.83,500.88 L398.86,500.88 L399.89,500.88 L400.92,500.88 L401.95,500.88 L402.98,500.88 L404.01,500.88 L405.04,500.88 L406.07,500.88 L407.10,500.88 L408.13,500.88 L409.16,500.88 L410.20,500.88 L411.23,500.88 L412.26,500.88 L413.29,500.88 L414.32,500.88 L415.35,500.88 L416.38,500.88 L417.41,500.88 L418.44,500.88 L419.47,500.88 L420.50,500.88 L421.53,500.88 L422.56,500.88 L423.59,500.88 L424.62,500.88 L425.65,500.88 L426.68,500.88 L427.71,500.88 L428.74,500.88 L429.77,500.88 L430.80,500.88 L431.83,500.88 L432.86,500.88 L433.89,500.88 L434.92,500.88 L435.95,500.88 L436.98,500.88 L438.01,500.88 L439.04,500.88 L440.07,500.88 L441.11,500.88 L442.14,500.88 L443.17,500.88 L444.20,500.88 L445.23,500.88 L446.26,500.88 L447.29,500.88 L448.32,500.88 L449.35,500.88 L450.38,500.88 L451.41,500.88 L452.44,500.88 L453.47,500.88 L454.50,500.88 L455.53,500.88 L456.56,500.88 L457.59,500.88 L458.62,500.88 L459.65,500.88 L460.68,500.88 L461.71,500.88 L462.74,500.88 L463.77,500.88 L464.80,500.88 L465.83,500.88 L466.86,500.88 L467.89,500.88 L468.92,500.88 L469.95,500.88 L470.98,500.88 L472.01,500.88 L473.05,500.88 L474.08,500.88 L475.11,500.88 L476.14,500.88 L477.17,500.88 L478.20,500.88 L479.23,500.88 L480.26,500.88 L481.29,500.88 L482.32,500.88 L483.35,500.88 L484.38,500.88 L485.41,500.88 L486.44,500.88 L487.47,500.88 L488.50,500.88" stroke="#373794"/>
<path d="M80.70,732.00 L81.72,731.57 L82.74,731.12 L83.77,730.67 L84.79,730.21 L85.81,729.74 L86.83,729.26 L87.85,728.76 L88.88,728.26 L89.90,727.75 L90.92,727.23 L91.94,726.69 L92.96,726.15 L93.99,725.59 L95.01,725.02 L96.03,724.44 L97.05,723.85 L98.07,723.25 L99.10,722.63 L100.12,722.00 L101.14,721.36 L102.16,720.71 L103.19,720.04 L104.21,719.36 L105.23,718.67 L106.25,717.96 L107.27,717.24 L108.30,716.50 L109.32,715.76 L110.34,714.99 L111.36,714.21 L112.38,713.42 L113.41,712.61 L114.43,711.79 L115.45,710.95 L116.47,710.09 L117.49,709.22 L118.52,708.34 L119.54,707.43 L120.56,706.51 L121.58,705.58 L122.60,704.63 L123.63,703.66 L124.65,702.67 L125.67,701.66 L126.69,700.64 L127.71,699.60 L128.74,698.54 L129.76,697.47 L130.78,696.38 L131.80,695.26 L132.82,694.13 L133.85,692.98 L134.87,691.82 L135.89,690.63 L136.91,689.43 L137.94,688.20 L138.96,686.96 L139.98,685.70 L141.00,684.41 L142.02,683.11 L143.05,681.79 L144.07,680.45 L145.09,679.10 L146.11,677.72 L147.13,676.32 L148.16,674.90 L149.18,673.47 L150.20,672.01 L151.22,670.54 L152.24,669.04 L153.27,667.53 L154.29,666.00 L155.31,664.45 L156.33,662.88 L157.35,661.30 L158.38,659.69 L159.40,658.07 L160.42,656.43 L161.44,654.77 L162.46,653.09 L163.49,651.40 L164.51,649.69 L165.53,647.97 L166.55,646.23 L167.57,644.47 L168.60,642.70 L169.62,640.91 L170.64,639.11 L171.66,637.30 L172.68,635.47 L173.71,633.63 L174.73,631.77 L175.75,629.91 L176.77,628.03 L177.80,626.15 L178.82,624.25 L179.84,622.35 L180.86,620.44 L181.88,618.51 L182.91,616.59 L183.93,614.65 L184.95,612.71 L185.97,610.77 L186.99,608.82 L188.02,606.87 L189.04,604.91 L190.06,602.96 L191.08,601.00 L192.10,599.05 L193.13,597.09 L194.15,595.14 L195.17,593.19 L196.19,591.25 L197.21,589.31 L198.24,587.38 L199.26,585.45 L200.28,583.53 L201.30,581.62 L202.32,579.72 L203.35,577.83 L204.37,575.96 L205.39,574.09 L206.41,572.24 L207.43,570.41 L208.46,568.59 L209.48,566.78 L210.50,565.00 L211.52,563.23 L212.55,561.48 L213.57,559.75 L214.59,558.04 L215.61,556.36 L216.63,554.69 L217.66,553.05 L218.68,551.43 L219.70,549.84 L220.72,548.28 L221.74,546.73 L222.77,545.22 L223.79,543.73 L224.81,542.27 L225.83,540.84 L226.85,539.44 L227.88,538.06 L228.90,536.72 L229.92,535.40 L230.94,534.12 L231.96,532.86 L232.99,531.64 L234.01,530.44 L235.03,529.28 L236.05,528.15 L237.07,527.05 L238.10,525.98 L239.12,524.94 L240.14,523.93 L241.16,522.95 L242.18,522.00 L243.21,521.08 L244.23,520.19 L245.25,519.33 L246.27,518.50 L247.29,517.70 L248.32,516.93 L249.34,516.18 L250.36,515.46 L251.38,514.78 L252.41,514.11 L253.43,513.48 L254.45,512.87 L255.47,512.28 L256.49,511.72 L257.52,511.18 L258.54,510.67 L259.56,510.18 L260.58,509.71 L261.60,509.26 L262.63,508.84 L263.65,508.43 L264.67,508.04 L265.69,507.68 L266.71,507.33 L267.74,507.00 L268.76,506.68 L269.78,506.38 L270.80,506.10 L271.82,505.84 L272.85,505.58 L273.87,505.35 L274.89,505.12 L275.91,504.91 L276.93,504.71 L277.96,504.52 L278.98,504.35 L280.00,504.18 L281.02,504.02 L282.04,503.88 L283.07,503.74 L284.09,503.61 L285.11,503.49 L286.13,503.38 L287.16,503.27 L288.18,503.18 L289.20,503.09 L290.22,503.00 L291.24,502.92 L292.27,502.85 L293.29,502.78 L294.31,502.71 L295.33,502.65 L296.35,502.60 L297.38,502.55 L298.40,502.50 L299.42,502.46 L300.44,502.42 L301.46,502.38 L302.49,502.34 L303.51,502.31 L304.53,502.28 L305.55,502.25 L306.57,502.23 L307.60,502.21 L308.62,502.18 L309.64,502.16 L310.66,502.15 L311.68,502.13 L312.71,502.11 L313.73,502.10 L314.75,502.09 L315.77,502.08 L316.79,502.07 L317.82,502.06 L318.84,502.05 L319.86,502.04 L320.88,502.03 L321.91,502.02 L322.93,502.02 L323.95,502.01 L324.97,502.01 L325.99,502.00 L327.02,502.00 L328.04,501.99 L329.06,501.99 L330.08,501.99 L331.10,501.98 L332.13,501.98 L333.15,501.98 L334.17,501.98 L335.19,501.97 L336.21,501.97 L337.24,501.97 L338.26,501.97 L339.28,501.97 L340.30,501.97 L341.32,501.97 L342.35,501.96 L343.37,501.96 L344.39,501.96 L345.41,501.96 L346.43,501.96 L347.46,501.96 L348.48,501.96 L349.50,501.96 L350.52,501.96 L351.54,501.96 L352.57,501.96 L353.59,501.96 L354.61,501.96 L355.63,501.96 L356.65,501.96 L357.68,501.96 L358.70,501.96 L359.72,501.96 L360.74,501.96 L361.77,501.96 L362.79,501.96 L363.81,501.96 L364.83,501.96 L365.85,501.96 L366.88,501.96 L367.90,501.96 L368.92,501.96 L369.94,501.96 L370.96,501.96 L371.99,501.96 L373.01,501.96 L374.03,501.96 L375.05,501.96 L376.07,501.96 L377.10,501.96 L378.12,501.96 L379.14,501.96 L380.16,501.96 L381.18,501.96 L382.21,501.96 L383.23,501.96 L384.25,501.96 L385.27,501.96 L386.29,501.96 L387.32,501.96 L388.34,501.96 L389.36,501.96 L390.38,501.96 L391.40,501.96 L392.43,501.96 L393.45,501.96 L394.47,501.96 L395.49,501.96 L396.52,501.96 L397.54,501.96 L398.56,501.96 L399.58,501.96 L400.60,501.96 L401.63,501.96 L402.65,501.96 L403.67,501.96 L404.69,501.96 L405.71,501.96 L406.74,501.96 L407.76,501.96 L408.78,501.96 L409.80,501.96 L410.82,501.96 L411.85,501.96 L412.87,501.96 L413.89,501.96 L414.91,501.96 L415.93,501.96 L416.96,501.96 L417.98,501.96 L419.00,501.96 L420.02,501.96 L421.04,501.96 L422.07,501.96 L423.09,501.96 L424.11,501.96 L425.13,501.96 L426.15,501.96 L427.18,501.96 L428.20,501.96 L429.22,501.96 L430.24,501.96 L431.26,501.96 L432.29,501.96 L433.31,501.96 L434.33,501.96 L435.35,501.96 L436.38,501.96 L437.40,501.96 L438.42,501.96 L439.44,501.96 L440.46,501.96 L441.49,501.96 L442.51,501.96 L443.53,501.96 L444.55,501.96 L445.57,501.96 L446.60,501.96 L447.62,501.96 L448.64,501.96 L449.66,501.96 L450.68,501.96 L451.71,501.96 L452.73,501.96 L453.75,501.96 L454.77,501.96 L455.79,501.96 L456.82,501.96 L457.84,501.96 L458.86,501.96 L459.88,501.96 L460.90,501.96 L461.93,501.96 L462.95,501.96 L463.97,501.96 L464.99,501.96 L466.01,501.96 L467.04,501.96 L468.06,501.96 L469.08,501.96 L470.10,501.96 L471.13,501.96 L472.15,501.96 L473.17,501.96 L474.19,501.96 L475.21,501.96 L476.24,501.96 L477.26,501.96 L478.28,501.96 L479.30,501.96 L480.32,501.96 L481.35,501.96 L482.37,501.96 L483.39,501.96 L484.41,501.96 L485.43,501.96 L486.46,501.96 L487.48,501.96 L488.50,501.96" stroke="#7d336b"/>
<path d="M80.70,743.53 L81.72,743.35 L82.74,743.16 L83.77,742.97 L84.79,742.78 L85.81,742.58 L86.83,742.38 L87.85,742.17 L88.88,741.96 L89.90,741.74 L90.92,741.52 L91.94,741.29 L92.96,741.06 L93.99,740.82 L95.01,740.57 L96.03,740.33 L97.05,740.07 L98.07,739.81 L99.10,739.55 L100.12,739.28 L101.14,739.00 L102.16,738.71 L103.19,738.42 L104.21,738.13 L105.23,737.83 L106.25,737.52 L107.27,737.20 L108.30,736.88 L109.32,736.55 L110.34,736.21 L111.36,735.87 L112.38,735.51 L113.41,735.15 L114.43,734.79 L115.45,734.41 L116.47,734.03 L117.49,733.64 L118.52,733.24 L119.54,732.83 L120.56,732.41 L121.58,731.99 L122.60,731.55 L123.63,731.11 L124.65,730.66 L125.67,730.20 L126.69,729.73 L127.71,729.24 L128.74,728.75 L129.76,728.25 L130.78,727.74 L131.80,727.22 L132.82,726.69 L133.85,726.15 L134.87,725.59 L135.89,725.03 L136.91,724.45 L137.94,723.86 L138.96,723.26 L139.98,722.65 L141.00,722.03 L142.02,721.40 L143.05,720.75 L144.07,720.09 L145.09,719.42 L146.11,718.74 L147.13,718.04 L148.16,717.33 L149.18,716.61 L150.20,715.87 L151.22,715.12 L152.24,714.36 L153.27,713.58 L154.29,712.79 L155.31,711.98 L156.33,711.16 L157.35,710.33 L158.38,709.48 L159.40,708.62 L160.42,707.74 L161.44,706.85 L162.46,705.94 L163.49,705.02 L164.51,704.08 L165.53,703.13 L166.55,702.16 L167.57,701.17 L168.60,700.18 L169.62,699.16 L170.64,698.13 L171.66,697.08 L172.68,696.02 L173.71,694.94 L174.73,693.85 L175.75,692.74 L176.77,691.61 L177.80,690.47 L178.82,689.32 L179.84,688.14 L180.86,686.95 L181.88,685.75 L182.91,684.53 L183.93,683.29 L184.95,682.04 L185.97,680.78 L186.99,679.49 L188.02,678.20 L189.04,676.88 L190.06,675.56 L191.08,674.21 L192.10,672.86 L193.13,671.48 L194.15,670.10 L195.17,668.70 L196.19,667.29 L197.21,665.86 L198.24,664.42 L199.26,662.96 L200.28,661.50 L201.30,660.02 L202.32,658.53 L203.35,657.03 L204.37,655.51 L205.39,653.99 L206.41,652.45 L207.43,650.91 L208.46,649.35 L209.48,647.79 L210.50,646.21 L211.52,644.63 L212.55,643.04 L213.57,641.44 L214.59,639.84 L215.61,638.23 L216.63,636.61 L217.66,634.99 L218.68,633.36 L219.70,631.73 L220.72,630.09 L221.74,628.45 L222.77,626.81 L223.79,625.17 L224.81,623.52 L225.83,621.87 L226.85,620.23 L227.88,618.58 L228.90,616.94 L229.92,615.29 L230.94,613.65 L231.96,612.02 L232.99,610.38 L234.01,608.75 L235.03,607.13 L236.05,605.51 L237.07,603.90 L238.10,602.29 L239.12,600.69 L240.14,599.10 L241.16,597.52 L242.18,595.94 L243.21,594.38 L244.23,592.83 L245.25,591.28 L246.27,589.75 L247.29,588.24 L248.32,586.73 L249.34,585.24 L250.36,583.76 L251.38,582.29 L252.41,580.84 L253.43,579.41 L254.45,577.99 L255.47,576.58 L256.49,575.19 L257.52,573.82 L258.54,572.47 L259.56,571.13 L260.58,569.82 L261.60,568.52 L262.63,567.23 L263.65,565.97 L264.67,564.73 L265.69,563.50 L266.71,562.30 L267.74,561.11 L268.76,559.94 L269.78,558.80 L270.80,557.67 L271.82,556.57 L272.85,555.48 L273.87,554.41 L274.89,553.37 L275.91,552.34 L276.93,551.34 L277.96,550.36 L278.98,549.39 L280.00,548.45 L281.02,547.53 L282.04,546.62 L283.07,545.74 L284.09,544.88 L285.11,544.04 L286.13,543.21 L287.16,542.41 L288.18,541.62 L289.20,540.86 L290.22,540.11 L291.24,539.39 L292.27,538.68 L293.29,537.99 L294.31,537.31 L295.33,536.66 L296.35,536.02 L297.38,535.40 L298.40,534.80 L299.42,534.22 L300.44,533.65 L301.46,533.10 L302.49,532.56 L303.51,532.04 L304.53,531.53 L305.55,531.04 L306.57,530.57 L307.60,530.11 L308.62,529.66 L309.64,529.23 L310.66,528.81 L311.68,528.40 L312.71,528.01 L313.73,527.63 L314.75,527.26 L315.77,526.90 L316.79,526.56 L317.82,526.22 L318.84,525.90 L319.86,525.59 L320.88,525.29 L321.91,525.00 L322.93,524.72 L323.95,524.45 L324.97,524.19 L325.99,523.94 L327.02,523.70 L328.04,523.46 L329.06,523.24 L330.08,523.02 L331.10,522.81 L332.13,522.61 L333.15,522.41 L334.17,522.23 L335.19,522.04 L336.21,521.87 L337.24,521.70 L338.26,521.54 L339.28,521.39 L340.30,521.24 L341.32,521.10 L342.35,520.96 L343.37,520.83 L344.39,520.70 L345.41,520.58 L346.43,520.46 L347.46,520.35 L348.48,520.24 L349.50,520.14 L350.52,520.04 L351.54,519.94 L352.57,519.85 L353.59,519.76 L354.61,519.67 L355.63,519.59 L356.65,519.51 L357.68,519.44 L358.70,519.37 L359.72,519.30 L360.74,519.23 L361.77,519.17 L362.79,519.11 L363.81,519.05 L364.83,519.00 L365.85,518.94 L366.88,518.89 L367.90,518.84 L368.92,518.79 L369.94,518.75 L370.96,518.71 L371.99,518.67 L373.01,518.63 L374.03,518.59 L375.05,518.55 L376.07,518.52 L377.10,518.48 L378.12,518.45 L379.14,518.42 L380.16,518.39 L381.18,518.37 L382.21,518.34 L383.23,518.31 L384.25,518.29 L385.27,518.27 L386.29,518.24 L387.32,518.22 L388.34,518.20 L389.36,518.18 L390.38,518.16 L391.40,518.15 L392.43,518.13 L393.45,518.11 L394.47,518.10 L395.49,518.08 L396.52,518.07 L397.54,518.05 L398.56,518.04 L399.58,518.03 L400.60,518.02 L401.63,518.01 L402.65,517.99 L403.67,517.98 L404.69,517.97 L405.71,517.97 L406.74,517.96 L407.76,517.95 L408.78,517.94 L409.80,517.93 L410.82,517.92 L411.85,517.92 L412.87,517.91 L413.89,517.90 L414.91,517.90 L415.93,517.89 L416.96,517.89 L417.98,517.88 L419.00,517.87 L420.02,517.87 L421.04,517.87 L422.07,517.86 L423.09,517.86 L424.11,517.85 L425.13,517.85 L426.15,517.84 L427.18,517.84 L428.20,517.84 L429.22,517.83 L430.24,517.83 L431.26,517.83 L432.29,517.83 L433.31,517.82 L434.33,517.82 L435.35,517.82 L436.38,517.82 L437.40,517.81 L438.42,517.81 L439.44,517.81 L440.46,517.81 L441.49,517.81 L442.51,517.80 L443.53,517.80 L444.55,517.80 L445.57,517.80 L446.60,517.80 L447.62,517.80 L448.64,517.79 L449.66,517.79 L450.68,517.79 L451.71,517.79 L452.73,517.79 L453.75,517.79 L454.77,517.79 L455.79,517.79 L456.82,517.79 L457.84,517.79 L458.86,517.78 L459.88,517.78 L460.90,517.78 L461.93,517.78 L462.95,517.78 L463.97,517.78 L464.99,517.78 L466.01,517.78 L467.04,517.78 L468.06,517.78 L469.08,517.78 L470.10,517.78 L471.13,517.78 L472.15,517.78 L473.17,517.78 L474.19,517.78 L475.21,517.78 L476.24,517.77 L477.26,517.77 L478.28,517.77 L479.30,517.77 L480.32,517.77 L481.35,517.77 L482.37,517.77 L483.39,517.77 L484.41,517.77 L485.43,517.77 L486.46,517.77 L487.48,517.77 L488.50,517.77" stroke="#928c3d"/>
<path d="M80.70,745.10 L81.72,744.95 L82.74,744.81 L83.77,744.66 L84.79,744.50 L85.81,744.35 L86.83,744.19 L87.85,744.02 L88.88,743.85 L89.90,743.68 L90.92,743.51 L91.94,743.33 L92.96,743.14 L93.99,742.96 L95.01,742.77 L96.03,742.57 L97.05,742.37 L98.07,742.16 L99.10,741.95 L100.12,741.74 L101.14,741.52 L102.16,741.30 L103.19,741.07 L104.21,740.84 L105.23,740.60 L106.25,740.35 L107.27,740.11 L108.30,739.85 L109.32,739.59 L110.34,739.32 L111.36,739.05 L112.38,738.78 L113.41,738.49 L114.43,738.20 L115.45,737.91 L116.47,737.61 L117.49,737.30 L118.52,736.98 L119.54,736.66 L120.56,736.33 L121.58,736.00 L122.60,735.65 L123.63,735.30 L124.65,734.95 L125.67,734.58 L126.69,734.21 L127.71,733.83 L128.74,733.44 L129.76,733.05 L130.78,732.64 L131.80,732.23 L132.82,731.81 L133.85,731.38 L134.87,730.94 L135.89,730.49 L136.91,730.04 L137.94,729.57 L138.96,729.10 L139.98,728.61 L141.00,728.12 L142.02,727.62 L143.05,727.10 L144.07,726.58 L145.09,726.05 L146.11,725.50 L147.13,724.95 L148.16,724.38 L149.18,723.81 L150.20,723.22 L151.22,722.62 L152.24,722.01 L153.27,721.39 L154.29,720.76 L155.31,720.12 L156.33,719.46 L157.35,718.79 L158.38,718.11 L159.40,717.42 L160.42,716.72 L161.44,716.00 L162.46,715.27 L163.49,714.53 L164.51,713.77 L165.53,713.01 L166.55,712.22 L167.57,711.43 L168.60,710.62 L169.62,709.80 L170.64,708.97 L171.66,708.12 L172.68,707.26 L173.71,706.38 L174.73,705.49 L175.75,704.59 L176.77,703.67 L177.80,702.74 L178.82,701.79 L179.84,700.83 L180.86,699.86 L181.88,698.87 L182.91,697.86 L183.93,696.85 L184.95,695.81 L185.97,694.77 L186.99,693.71 L188.02,692.63 L189.04,691.54 L190.06,690.44 L191.08,689.32 L192.10,688.19 L193.13,687.05 L194.15,685.89 L195.17,684.71 L196.19,683.53 L197.21,682.33 L198.24,681.11 L199.26,679.88 L200.28,678.64 L201.30,677.39 L202.32,676.12 L203.35,674.84 L204.37,673.55 L205.39,672.25 L206.41,670.93 L207.43,669.60 L208.46,668.26 L209.48,666.91 L210.50,665.55 L211.52,664.18 L212.55,662.80 L213.57,661.41 L214.59,660.01 L215.61,658.60 L216.63,657.18 L217.66,655.75 L218.68,654.31 L219.70,652.87 L220.72,651.42 L221.74,649.96 L222.77,648.50 L223.79,647.03 L224.81,645.55 L225.83,644.07 L226.85,642.59 L227.88,641.10 L228.90,639.61 L229.92,638.11 L230.94,636.62 L231.96,635.12 L232.99,633.62 L234.01,632.12 L235.03,630.62 L236.05,629.12 L237.07,627.62 L238.10,626.13 L239.12,624.63 L240.14,623.14 L241.16,621.65 L242.18,620.17 L243.21,618.69 L244.23,617.21 L245.25,615.74 L246.27,614.28 L247.29,612.82 L248.32,611.38 L249.34,609.93 L250.36,608.50 L251.38,607.08 L252.41,605.67 L253.43,604.26 L254.45,602.87 L255.47,601.49 L256.49,600.12 L257.52,598.76 L258.54,597.42 L259.56,596.09 L260.58,594.77 L261.60,593.46 L262.63,592.17 L263.65,590.90 L264.67,589.64 L265.69,588.39 L266.71,587.17 L267.74,585.95 L268.76,584.76 L269.78,583.58 L270.80,582.42 L271.82,581.27 L272.85,580.15 L273.87,579.04 L274.89,577.95 L275.91,576.87 L276.93,575.82 L277.96,574.78 L278.98,573.76 L280.00,572.77 L281.02,571.79 L282.04,570.82 L283.07,569.88 L284.09,568.96 L285.11,568.05 L286.13,567.17 L287.16,566.30 L288.18,565.45 L289.20,564.62 L290.22,563.81 L291.24,563.02 L292.27,562.25 L293.29,561.49 L294.31,560.76 L295.33,560.04 L296.35,559.34 L297.38,558.65 L298.40,557.99 L299.42,557.34 L300.44,556.71 L301.46,556.10 L302.49,555.50 L303.51,554.92 L304.53,554.35 L305.55,553.81 L306.57,553.27 L307.60,552.76 L308.62,552.25 L309.64,551.77 L310.66,551.29 L311.68,550.84 L312.71,550.39 L313.73,549.96 L314.75,549.55 L315.77,549.14 L316.79,548.75 L317.82,548.37 L318.84,548.01 L319.86,547.66 L320.88,547.31 L321.91,546.98 L322.93,546.67 L323.95,546.36 L324.97,546.06 L325.99,545.77 L327.02,545.50 L328.04,545.23 L329.06,544.97 L330.08,544.72 L331.10,544.49 L332.13,544.25 L333.15,544.03 L334.17,543.82 L335.19,543.61 L336.21,543.42 L337.24,543.23 L338.26,543.04 L339.28,542.87 L340.30,542.70 L341.32,542.53 L342.35,542.38 L343.37,542.23 L344.39,542.08 L345.41,541.94 L346.43,541.81 L347.46,541.68 L348.48,541.56 L349.50,541.44 L350.52,541.33 L351.54,541.22 L352.57,541.12 L353.59,541.02 L354.61,540.92 L355.63,540.83 L356.65,540.74 L357.68,540.66 L358.70,540.58 L359.72,540.50 L360.74,540.43 L361.77,540.36 L362.79,540.29 L363.81,540.22 L364.83,540.16 L365.85,540.10 L366.88,540.05 L367.90,539.99 L368.92,539.94 L369.94,539.89 L370.96,539.84 L371.99,539.80 L373.01,539.76 L374.03,539.71 L375.05,539.67 L376.07,539.64 L377.10,539.60 L378.12,539.57 L379.14,539.53 L380.16,539.50 L381.18,539.47 L382.21,539.44 L383.23,539.42 L384.25,539.39 L385.27,539.37 L386.29,539.34 L387.32,539.32 L388.34,539.30 L389.36,539.28 L390.38,539.26 L391.40,539.24 L392.43,539.22 L393.45,539.20 L394.47,539.19 L395.49,539.17 L396.52,539.16 L397.54,539.14 L398.56,539.13 L399.58,539.12 L400.60,539.10 L401.63,539.09 L402.65,539.08 L403.67,539.07 L404.69,539.06 L405.71,539.05 L406.74,539.04 L407.76,539.03 L408.78,539.03 L409.80,539.02 L410.82,539.01 L411.85,539.00 L412.87,539.00 L413.89,538.99 L414.91,538.98 L415.93,538.98 L416.96,538.97 L417.98,538.97 L419.00,538.96 L420.02,538.96 L421.04,538.95 L422.07,538.95 L423.09,538.94 L424.11,538.94 L425.13,538.94 L426.15,538.93 L427.18,538.93 L428.20,538.93 L429.22,538.92 L430.24,538.92 L431.26,538.92 L432.29,538.92 L433.31,538.91 L434.33,538.91 L435.35,538.91 L436.38,538.91 L437.40,538.90 L438.42,538.90 L439.44,538.90 L440.46,538.90 L441.49,538.90 L442.51,538.90 L443.53,538.89 L444.55,538.89 L445.57,538.89 L446.60,538.89 L447.62,538.89 L448.64,538.89 L449.66,538.89 L450.68,538.88 L451.71,538.88 L452.73,538.88 L453.75,538.88 L454.77,538.88 L455.79,538.88 L456.82,538.88 L457.84,538.88 L458.86,538.88 L459.88,538.88 L460.90,538.88 L461.93,538.88 L462.95,538.88 L463.97,538.87 L464.99,538.87 L466.01,538.87 L467.04,538.87 L468.06,538.87 L469.08,538.87 L470.10,538.87 L471.13,538.87 L472.15,538.87 L473.17,538.87 L474.19,538.87 L475.21,538.87 L476.24,538.87 L477.26,538.87 L478.28,538.87 L479.30,538.87 L480.32,538.87 L481.35,538.87 L482.37,538.87 L483.39,538.87 L484.41,538.87 L485.43,538.87 L486.46,538.87 L487.48,538.87 L488.50,538.87" stroke="#569456"/>
<path d="M80.70,746.31 L81.72,746.19 L82.74,746.07 L83.77,745.95 L84.79,745.82 L85.81,745.69 L86.83,745.56 L87.85,745.42 L88.88,745.29 L89.90,745.15 L90.92,745.00 L91.94,744.85 L92.96,744.70 L93.99,744.55 L95.01,744.39 L96.03,744.23 L97.05,744.06 L98.07,743.89 L99.10,743.72 L100.12,743.54 L101.14,743.36 L102.16,743.18 L103.19,742.99 L104.21,742.79 L105.23,742.60 L106.25,742.39 L107.27,742.19 L108.30,741.97 L109.32,741.76 L110.34,741.54 L111.36,741.31 L112.38,741.08 L113.41,740.84 L114.43,740.60 L115.45,740.36 L116.47,740.10 L117.49,739.85 L118.52,739.58 L119.54,739.31 L120.56,739.04 L121.58,738.76 L122.60,738.47 L123.63,738.18 L124.65,737.88 L125.67,737.57 L126.69,737.26 L127.71,736.94 L128.74,736.61 L129.76,736.28 L130.78,735.94 L131.80,735.59 L132.82,735.23 L133.85,734.87 L134.87,734.50 L135.89,734.12 L136.91,733.74 L137.94,733.34 L138.96,732.94 L139.98,732.53 L141.00,732.11 L142.02,731.68 L143.05,731.25 L144.07,730.80 L145.09,730.35 L146.11,729.88 L147.13,729.41 L148.16,728.93 L149.18,728.44 L150.20,727.93 L151.22,727.42 L152.24,726.90 L153.27,726.37 L154.29,725.83 L155.31,725.28 L156.33,724.71 L157.35,724.14 L158.38,723.55 L159.40,722.96 L160.42,722.35 L161.44,721.73 L162.46,721.10 L163.49,720.46 L164.51,719.81 L165.53,719.14 L166.55,718.46 L167.57,717.78 L168.60,717.07 L169.62,716.36 L170.64,715.63 L171.66,714.89 L172.68,714.14 L173.71,713.38 L174.73,712.60 L175.75,711.81 L176.77,711.01 L177.80,710.19 L178.82,709.36 L179.84,708.52 L180.86,707.66 L181.88,706.79 L182.91,705.91 L183.93,705.01 L184.95,704.10 L185.97,703.17 L186.99,702.24 L188.02,701.28 L189.04,700.32 L190.06,699.34 L191.08,698.35 L192.10,697.34 L193.13,696.32 L194.15,695.28 L195.17,694.24 L196.19,693.18 L197.21,692.10 L198.24,691.01 L199.26,689.91 L200.28,688.80 L201.30,687.67 L202.32,686.53 L203.35,685.38 L204.37,684.21 L205.39,683.03 L206.41,681.84 L207.43,680.64 L208.46,679.43 L209.48,678.20 L210.50,676.96 L211.52,675.71 L212.55,674.45 L213.57,673.18 L214.59,671.90 L215.61,670.61 L216.63,669.31 L217.66,668.00 L218.68,666.69 L219.70,665.36 L220.72,664.02 L221.74,662.68 L222.77,661.33 L223.79,659.97 L224.81,658.61 L225.83,657.24 L226.85,655.86 L227.88,654.48 L228.90,653.10 L229.92,651.71 L230.94,650.32 L231.96,648.92 L232.99,647.52 L234.01,646.12 L235.03,644.71 L236.05,643.31 L237.07,641.91 L238.10,640.50 L239.12,639.10 L240.14,637.70 L241.16,636.29 L242.18,634.90 L243.21,633.50 L244.23,632.11 L245.25,630.72 L246.27,629.34 L247.29,627.96 L248.32,626.59 L249.34,625.22 L250.36,623.87 L251.38,622.51 L252.41,621.17 L253.43,619.84 L254.45,618.51 L255.47,617.20 L256.49,615.90 L257.52,614.60 L258.54,613.32 L259.56,612.05 L260.58,610.79 L261.60,609.55 L262.63,608.32 L263.65,607.10 L264.67,605.90 L265.69,604.71 L266.71,603.54 L267.74,602.38 L268.76,601.24 L269.78,600.11 L270.80,599.00 L271.82,597.91 L272.85,596.83 L273.87,595.77 L274.89,594.73 L275.91,593.71 L276.93,592.70 L277.96,591.71 L278.98,590.74 L280.00,589.79 L281.02,588.86 L282.04,587.94 L283.07,587.05 L284.09,586.17 L285.11,585.31 L286.13,584.47 L287.16,583.65 L288.18,582.85 L289.20,582.07 L290.22,581.30 L291.24,580.56 L292.27,579.83 L293.29,579.12 L294.31,578.43 L295.33,577.75 L296.35,577.10 L297.38,576.46 L298.40,575.84 L299.42,575.24 L300.44,574.65 L301.46,574.08 L302.49,573.53 L303.51,572.99 L304.53,572.47 L305.55,571.97 L306.57,571.48 L307.60,571.01 L308.62,570.55 L309.64,570.11 L310.66,569.68 L311.68,569.26 L312.71,568.86 L313.73,568.48 L314.75,568.10 L315.77,567.74 L316.79,567.39 L317.82,567.06 L318.84,566.73 L319.86,566.42 L320.88,566.12 L321.91,565.83 L322.93,565.55 L323.95,565.29 L324.97,565.03 L325.99,564.78 L327.02,564.54 L328.04,564.31 L329.06,564.09 L330.08,563.88 L331.10,563.68 L332.13,563.48 L333.15,563.30 L334.17,563.12 L335.19,562.94 L336.21,562.78 L337.24,562.62 L338.26,562.47 L339.28,562.33 L340.30,562.19 L341.32,562.06 L342.35,561.93 L343.37,561.81 L344.39,561.69 L345.41,561.58 L346.43,561.48 L347.46,561.38 L348.48,561.28 L349.50,561.19 L350.52,561.10 L351.54,561.02 L352.57,560.94 L353.59,560.86 L354.61,560.79 L355.63,560.72 L356.65,560.65 L357.68,560.59 L358.70,560.53 L359.72,560.47 L360.74,560.42 L361.77,560.37 L362.79,560.32 L363.81,560.27 L364.83,560.23 L365.85,560.18 L366.88,560.14 L367.90,560.11 L368.92,560.07 L369.94,560.03 L370.96,560.00 L371.99,559.97 L373.01,559.94 L374.03,559.91 L375.05,559.89 L376.07,559.86 L377.10,559.84 L378.12,559.81 L379.14,559.79 L380.16,559.77 L381.18,559.75 L382.21,559.73 L383.23,559.71 L384.25,559.70 L385.27,559.68 L386.29,559.67 L387.32,559.65 L388.34,559.64 L389.36,559.63 L390.38,559.61 L391.40,559.60 L392.43,559.59 L393.45,559.58 L394.47,559.57 L395.49,559.56 L396.52,559.55 L397.54,559.55 L398.56,559.54 L399.58,559.53 L400.60,559.52 L401.63,559.52 L402.65,559.51 L403.67,559.50 L404.69,559.50 L405.71,559.49 L406.74,559.49 L407.76,559.48 L408.78,559.48 L409.80,559.48 L410.82,559.47 L411.85,559.47 L412.87,559.46 L413.89,559.46 L414.91,559.46 L415.93,559.45 L416.96,559.45 L417.98,559.45 L419.00,559.45 L420.02,559.44 L421.04,559.44 L422.07,559.44 L423.09,559.44 L424.11,559.44 L425.13,559.43 L426.15,559.43 L427.18,559.43 L428.20,559.43 L429.22,559.43 L430.24,559.43 L431.26,559.42 L432.29,559.42 L433.31,559.42 L434.33,559.42 L435.35,559.42 L436.38,559.42 L437.40,559.42 L438.42,559.42 L439.44,559.42 L440.46,559.42 L441.49,559.42 L442.51,559.41 L443.53,559.41 L444.55,559.41 L445.57,559.41 L446.60,559.41 L447.62,559.41 L448.64,559.41 L449.66,559.41 L450.68,559.41 L451.71,559.41 L452.73,559.41 L453.75,559.41 L454.77,559.41 L455.79,559.41 L456.82,559.41 L457.84,559.41 L458.86,559.41 L459.88,559.41 L460.90,559.41 L461.93,559.41 L462.95,559.41 L463.97,559.41 L464.99,559.41 L466.01,559.41 L467.04,559.41 L468.06,559.41 L469.08,559.41 L470.10,559.41 L471.13,559.41 L472.15,559.41 L473.17,559.40 L474.19,559.40 L475.21,559.40 L476.24,559.40 L477.26,559.40 L478.28,559.40 L479.30,559.40 L480.32,559.40 L481.35,559.40 L482.37,559.40 L483.39,559.40 L484.41,559.40 L485.43,559.40 L486.46,559.40 L487.48,559.40 L488.50,559.40" stroke="#cd522c"/>
</g>
<text x="66.6" y="507.70" font-size="25" text-anchor="end">1.0</text>
<text x="66.6" y="557.10" font-size="25" text-anchor="end">0.8</text>
<text x="66.6" y="606.30" font-size="25" text-anchor="end">0.6</text>
<text x="66.6" y="655.60" font-size="25" text-anchor="end">0.4</text>
<text x="66.6" y="704.90" font-size="25" text-anchor="end">0.2</text>
<text x="66.6" y="769.40" font-size="25" text-anchor="end">0.0</text>
<text x="64.5" y="789.5" font-size="24">10</text>
<text x="92.2" y="779.9" font-size="21.5">-4</text>
<text x="159.84" y="789.8" font-size="24">0.001</text>
<text x="265.94" y="789.8" font-size="24">0.01</text>
<text x="372.54" y="789.8" font-size="24">0.1</text>
<text x="481.78" y="789.8" font-size="24">1</text>
<text x="199.4" y="830.1" font-size="25.1">Antigen density</text>
<text x="318.1" y="601" font-size="25">Transit time (h)</text>
<path d="M378.7,626.50H421.9" stroke="#373794" stroke-width="3.4"/>
<text x="430.72" y="633.80" font-size="24.5">0.1</text>
<path d="M378.7,653.00H421.9" stroke="#7d336b" stroke-width="3.4"/>
<text x="429.99" y="660.30" font-size="24.5">1</text>
<path d="M378.7,679.50H421.9" stroke="#928c3d" stroke-width="3.4"/>
<text x="429.99" y="686.80" font-size="24.5">6</text>
<path d="M378.7,706.00H421.9" stroke="#569456" stroke-width="3.4"/>
<text x="429.99" y="713.30" font-size="24.5">12</text>
<path d="M378.7,732.50H421.9" stroke="#c33a2e" stroke-width="3.4"/>
<text x="429.99" y="739.80" font-size="24.5">24</text>
</svg></body></html>
